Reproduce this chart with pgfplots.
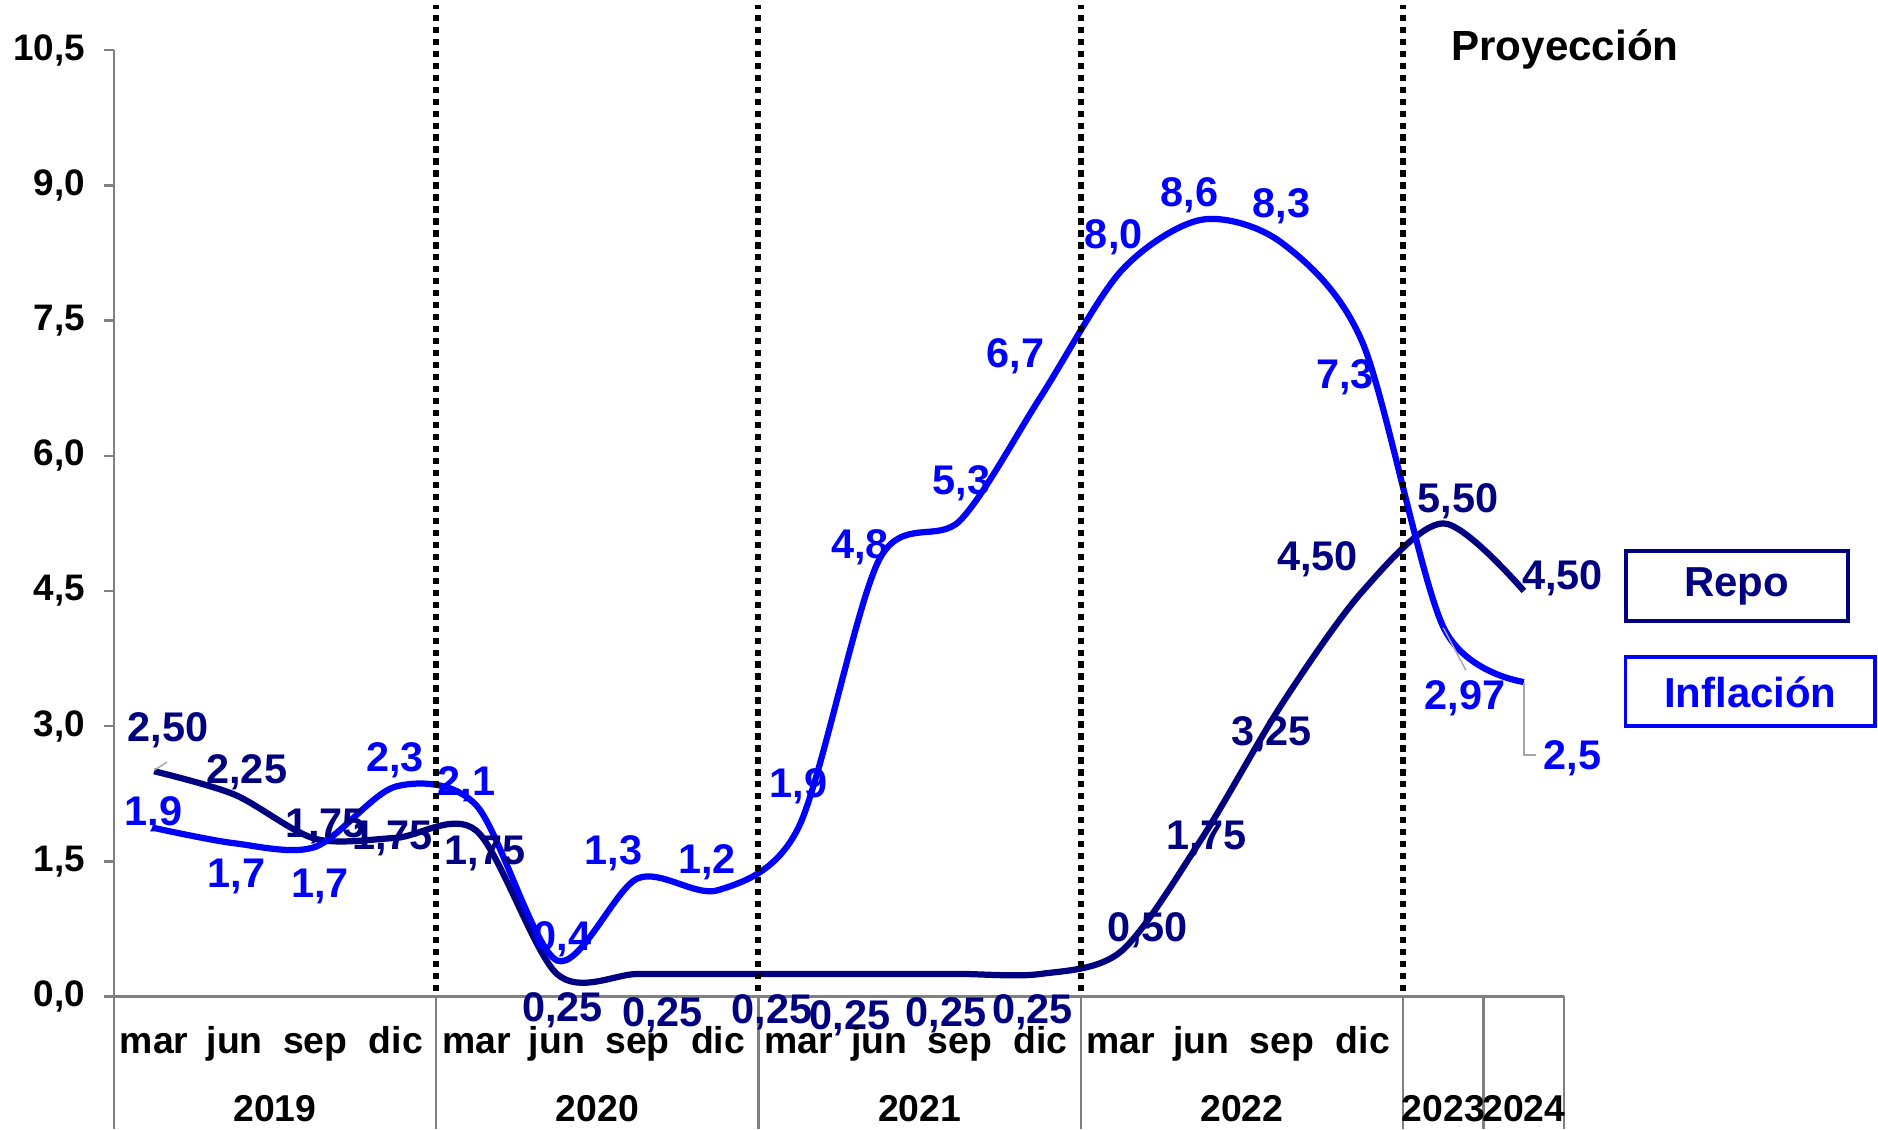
\documentclass[border=0pt]{standalone}
\usepackage{fontspec}
\setmainfont{Liberation Sans}
\usepackage{pgfplots}
\pgfplotsset{compat=1.18}

\definecolor{repo}{RGB}{0,0,128}
\definecolor{infl}{RGB}{0,0,255}
\definecolor{ejes}{RGB}{128,128,128}
\definecolor{guia}{RGB}{166,166,166}

\newcommand{\fs}[1]{\bfseries\fontsize{#1}{#1}\selectfont}

\tikzset{
  rl/.style={text=repo, font=\fs{17.3}, inner sep=0pt},
  il/.style={text=infl, font=\fs{17.3}, inner sep=0pt},
  cat/.style={text=black, font=\fs{15.6}, inner sep=0pt, anchor=base},
}

\begin{document}
\begin{tikzpicture}
\begin{axis}[
  name=ax,
  width=605.5pt, height=395pt, scale only axis,
  xmin=-0.5, xmax=17.5, ymin=0, ymax=10.5,
  clip=false,
  axis lines=left,
  axis line style={-, draw=ejes, line width=1pt},
  xtick=\empty,
  ytick={0,1.5,3,4.5,6,7.5,9,10.5},
  tick align=outside,
  major tick length=4pt,
  tick style={draw=ejes, line width=1pt},
  yticklabel style={font=\fs{15.4}, xshift=-4.4pt},
  /pgf/number format/fixed,
  /pgf/number format/fixed zerofill,
  /pgf/number format/precision=1,
  /pgf/number format/use comma,
  /pgf/number format/assume math mode=true,
]

% separadores bajo el eje
\pgfplotsinvokeforeach{-0.5,3.5,7.5,11.5,15.5,16.5,17.5}{
  \draw[ejes, line width=1pt] (axis cs:#1,0) -- ++(0pt,-55.5pt);
}

% repo
\addplot[repo, line width=2.6pt, smooth] coordinates {
(0,2.50) (1,2.24) (2,1.75) (3,1.76) (4,1.84) (5,0.25) (6,0.25) (7,0.25)
(8,0.25) (9,0.25) (10,0.25) (11,0.25) (12,0.50) (13,1.75) (14,3.25)
(15,4.50) (16,5.25) (17,4.50)
};

% inflacion
\addplot[infl, line width=2.6pt, smooth] coordinates {
(0,1.87) (1,1.70) (2,1.66) (3,2.33) (4,2.12) (5,0.40) (6,1.31) (7,1.18)
(8,1.88) (9,4.85) (10,5.28) (11,6.65) (12,8.05) (13,8.62) (14,8.36)
(15,7.25) (16,4.10) (17,3.49)
};

% lineas punteadas por año
\pgfplotsinvokeforeach{3.5,7.5,11.5,15.5}{
  \draw[black, line width=2.5pt, dash pattern=on 2.6pt off 2.4pt]
    (axis cs:#1,0.06) -- (axis cs:#1,11.0);
}

% lineas guia
\draw[guia, line width=0.6pt] (axis cs:0,2.51) -- (axis cs:0.16,2.60);
\draw[guia, line width=0.6pt] (axis cs:16.0,4.09) -- (axis cs:16.28,3.62);
\draw[guia, line width=0.6pt] (axis cs:17.0,3.48) -- (axis cs:17.0,2.68) -- (axis cs:17.15,2.68);

% etiquetas repo
\node[rl] at (axis cs:0.17,2.95) {2,50};
\node[rl] at (axis cs:1.15,2.49) {2,25};
\node[rl] at (axis cs:2.13,1.89) {1,75};
\node[rl] at (axis cs:2.96,1.75) {1,75};
\node[rl] at (axis cs:4.11,1.59) {1,75};
\node[rl] at (axis cs:5.07,-0.15) {0,25};
\node[rl] at (axis cs:6.31,-0.21) {0,25};
\node[rl] at (axis cs:7.67,-0.17) {0,25};
\node[rl] at (axis cs:8.64,-0.24) {0,25};
\node[rl] at (axis cs:9.83,-0.21) {0,25};
\node[rl] at (axis cs:10.90,-0.17) {0,25};
\node[rl] at (axis cs:12.33,0.73) {0,50};
\node[rl] at (axis cs:13.06,1.75) {1,75};
\node[rl] at (axis cs:13.87,2.91) {3,25};
\node[rl] at (axis cs:14.44,4.85) {4,50};
\node[rl] at (axis cs:16.18,5.50) {5,50};
\node[rl] at (axis cs:17.48,4.64) {4,50};

% etiquetas inflacion
\node[il] at (axis cs:-0.01,2.02) {1,9};
\node[il] at (axis cs:1.02,1.33) {1,7};
\node[il] at (axis cs:2.06,1.22) {1,7};
\node[il] at (axis cs:2.99,2.62) {2,3};
\node[il] at (axis cs:3.88,2.35) {2,1};
\node[il] at (axis cs:5.07,0.64) {0,4};
\node[il] at (axis cs:5.70,1.59) {1,3};
\node[il] at (axis cs:6.86,1.49) {1,2};
\node[il] at (axis cs:8.00,2.33) {1,9};
\node[il] at (axis cs:8.76,4.98) {4,8};
\node[il] at (axis cs:10.02,5.70) {5,3};
\node[il] at (axis cs:10.69,7.10) {6,7};
\node[il] at (axis cs:11.91,8.43) {8,0};
\node[il] at (axis cs:12.85,8.89) {8,6};
\node[il] at (axis cs:13.99,8.77) {8,3};
\node[il] at (axis cs:14.78,6.87) {7,3};
\node[il] at (axis cs:16.27,3.31) {2,97};
\node[il] at (axis cs:17.60,2.64) {2,5};

% meses y años
\pgfplotsinvokeforeach{0,4,8,12}{
  \node[cat, yshift=-24pt] at (axis cs:#1,0) {mar};
  \node[cat, xshift=33.64pt, yshift=-24pt] at (axis cs:#1,0) {jun};
  \node[cat, xshift=67.28pt, yshift=-24pt] at (axis cs:#1,0) {sep};
  \node[cat, xshift=100.92pt, yshift=-24pt] at (axis cs:#1,0) {dic};
}
\node[cat, yshift=-52pt] at (axis cs:1.5,0) {2019};
\node[cat, yshift=-52pt] at (axis cs:5.5,0) {2020};
\node[cat, yshift=-52pt] at (axis cs:9.5,0) {2021};
\node[cat, yshift=-52pt] at (axis cs:13.5,0) {2022};
\node[cat, yshift=-52pt] at (axis cs:16,0) {2023};
\node[cat, yshift=-52pt] at (axis cs:17,0) {2024};

% proyeccion y leyenda
\node[font=\fs{17.6}, inner sep=0pt] at (axis cs:17.51,10.51) {Proyección};
\node[draw=repo, line width=1.6pt, minimum width=92.7pt, minimum height=29.2pt,
      text=repo, font=\fs{17.5}, inner sep=0pt] at (axis cs:19.64,4.555) {Repo};
\node[draw=infl, line width=1.6pt, minimum width=104.2pt, minimum height=28.8pt,
      text=infl, font=\fs{17.5}, inner sep=0pt] at (axis cs:19.81,3.38) {Inflación};
\end{axis}
\pgfresetboundingbox
\path ([shift={(-47.5pt,-55.5pt)}]ax.south west) rectangle ([shift={(736.5pt,416pt)}]ax.south west);
\end{tikzpicture}
\end{document}
